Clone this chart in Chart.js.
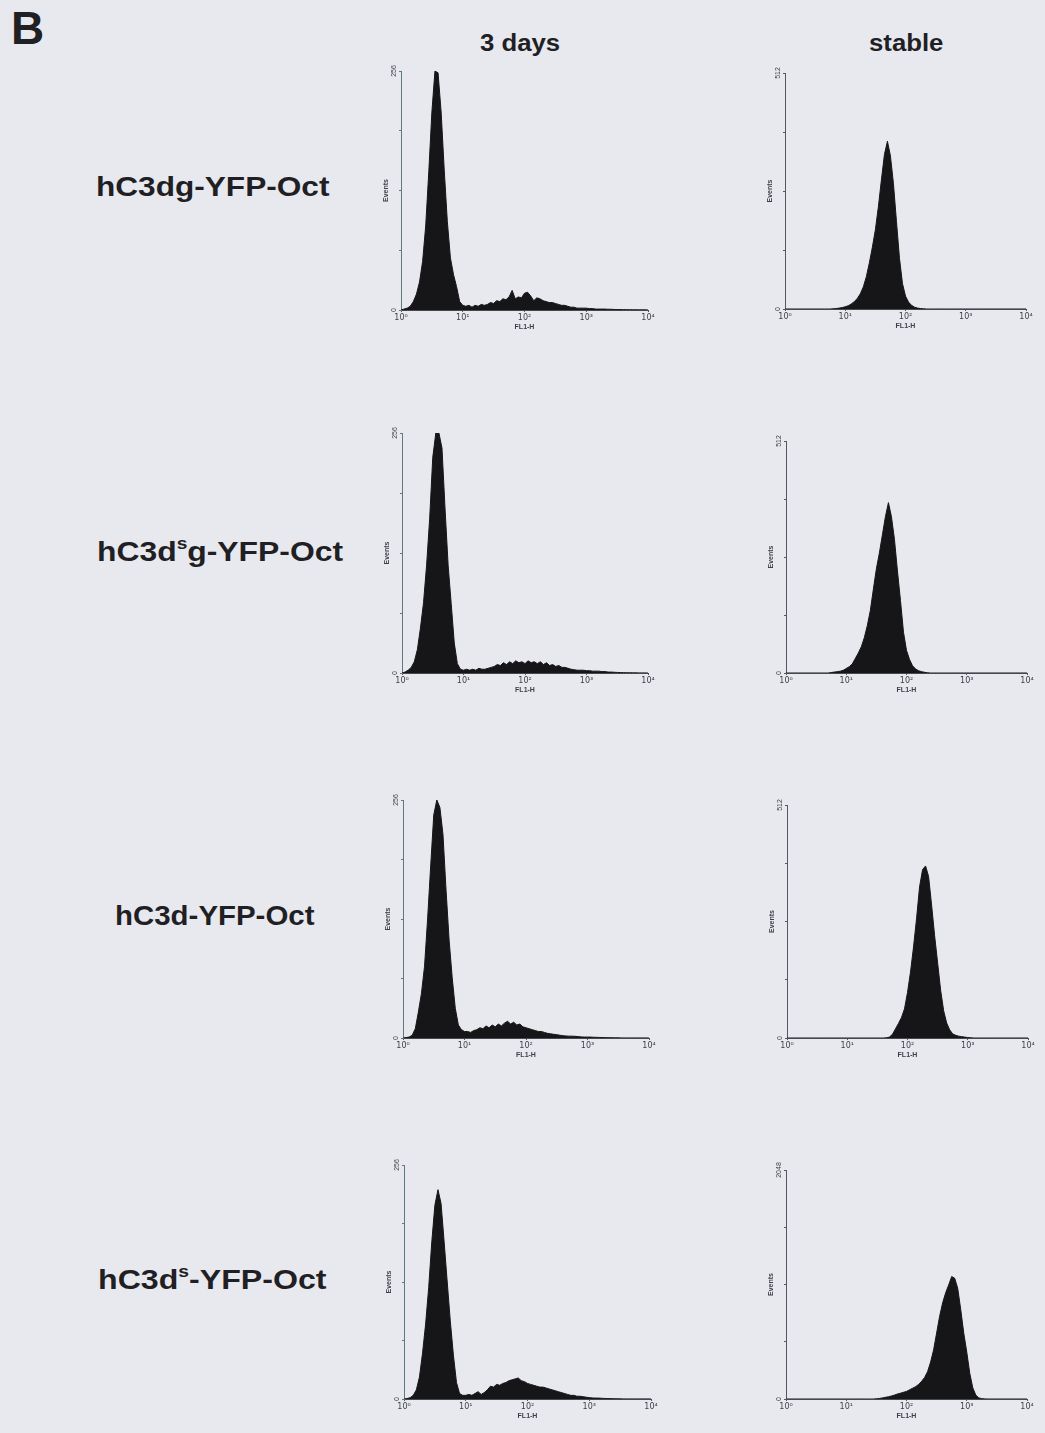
<!DOCTYPE html>
<html><head><meta charset="utf-8">
<script src="https://cdn.jsdelivr.net/npm/chart.js@4/dist/chart.umd.min.js"></script>
<style>
html,body{margin:0;padding:0;}
body{background:#e8e9ef;width:1045px;height:1433px;overflow:hidden;position:relative;font-family:"Liberation Sans",Arial,sans-serif;}
.t{position:absolute;font-weight:bold;color:#1f1f24;white-space:nowrap;line-height:1;transform-origin:0 0;}
.t sup{font-size:60%;vertical-align:0.75em;line-height:0;}
canvas{position:absolute;}
</style></head>
<body>
<div class="t" style="left:11px;top:5px;font-size:46px;">B</div>
<div class="t" style="left:480px;top:32px;font-size:23px;transform:scaleX(1.12);">3 days</div>
<div class="t" style="left:869px;top:32px;font-size:23px;transform:scaleX(1.12);">stable</div>
<div class="t" style="left:96px;top:174px;font-size:27px;transform:scaleX(1.17);">hC3dg-YFP-Oct</div>
<div class="t" style="left:97px;top:539px;font-size:27px;transform:scaleX(1.18);">hC3d<sup>s</sup>g-YFP-Oct</div>
<div class="t" style="left:115px;top:903px;font-size:27px;transform:scaleX(1.09);">hC3d-YFP-Oct</div>
<div class="t" style="left:98px;top:1267px;font-size:27px;transform:scaleX(1.19);">hC3d<sup>s</sup>-YFP-Oct</div>
<script>
// ---- DATA ----
// bin centres on the FL1-H axis, expressed as log10(FL1-H) (0 = 10^0 ... 4 = 10^4)
const BIN_LOG = [0,0.05,0.1,0.15,0.2,0.25,0.3,0.35,0.4,0.45,0.5,0.55,0.6,0.65,0.7,0.75,0.8,0.85,0.9,0.95,
 1,1.05,1.1,1.15,1.2,1.25,1.3,1.35,1.4,1.45,1.5,1.55,1.6,1.65,1.7,1.75,1.8,1.85,1.9,1.95,
 2,2.05,2.1,2.15,2.2,2.25,2.3,2.35,2.4,2.45,2.5,2.55,2.6,2.65,2.7,2.75,2.8,2.85,2.9,2.95,
 3,3.05,3.1,3.15,3.2,3.25,3.3,3.35,3.4,3.45,3.5,3.55,3.6,3.65,3.7,3.75,3.8,3.85,3.9,3.95,4];
const X_TICK_LABELS = ['10\u2070','10\u00b9','10\u00b2','10\u00b3','10\u2074'];
const Y_TITLE = 'Events';
const X_TITLE = 'FL1-H';

const DAY3_DG = [0,1,2,4,9,17,30,52,90,148, 212,256,254,212,150,95,56,38,25,9, 5,4,5,3,5,4,6,5,6,8,
 7,10,9,12,11,14,21,12,14,13, 18,19,15,10,13,12,10,9,8,8, 7,6,5,5,4,3,3,2,2,2,
 2,1.5,1.5,1,1,1,1,0.8,0.8,0.6, 0.5,0.5,0.4,0.4,0.3,0.3,0.3,0.2,0.2,0.2, 0];
const STABLE_DG = [0,0,0,0,0,0,0,0,0,0, 0,0,0,0,0,0,0.5,1,2,3, 5,7,11,16,23,33,48,70,100,134,
 172,222,280,335,364,332,272,190,110,55, 28,15,8,4,2,1,0.5,0,0,0, 0,0,0,0,0,0,0,0,0,0,
 0,0,0,0,0,0,0,0,0,0, 0,0,0,0,0,0,0,0,0,0, 0];
const DAY3_DSG = [0,1,3,6,12,25,48,75,115,165, 230,256,256,240,175,115,74,32,10,4, 3,4,3,4,3,5,4,4,5,6,
 7,9,8,11,9,12,10,13,11,12, 10,13,11,12,10,12,9,11,8,9, 7,8,6,6,5,4,3.5,3,3,3,
 2.5,2.5,2,2,2,1.5,1.5,1,1,0.8, 0.6,0.5,0.4,0.3,0.3,0.2,0.2,0.1,0.1,0.1, 0];
const STABLE_DSG = [0,0,0,0,0,0,0,0,0,0, 0,0,0,0,0,1,2,3,4,6, 10,14,20,32,44,58,78,105,138,185,
 230,265,305,345,376,345,295,225,160,90, 50,30,16,9,5,3,1.5,0.5,0,0, 0,0,0,0,0,0,0,0,0,0,
 0,0,0,0,0,0,0,0,0,0, 0,0,0,0,0,0,0,0,0,0, 0];
const DAY3_D = [0,0.5,1,3,10,28,48,77,128,185, 240,256,248,219,159,105,65,32,14,9, 7,7,6,8,9,11,10,13,11,14,
 12,15,13,16,18,15,17,14,15,12, 11,10,9,8,7,7,6,5,4.5,4, 3.6,3,2.5,2.2,2,2,1.8,1.5,1.2,1,
 1,1,0.8,0.7,0.6,0.5,0.4,0.3,0.3,0.2, 0.2,0.1,0.1,0.1,0.1,0.1,0.1,0.1,0.1,0.1, 0];
const STABLE_D = [0,0,0,0,0,0,0,0,0,0, 0,0,0,0,0,0,0,0,0,0, 0,0,0,0,0,0,0,0,0,0,
 0,0,0,0.5,2,8,20,32,45,64, 100,145,200,262,332,370,378,355,292,225, 165,105,60,33,18,9,6,4,3,2,
 1,0.5,0,0,0,0,0,0,0,0, 0,0,0,0,0,0,0,0,0,0, 0];
const DAY3_DS = [0,0.5,1.5,4,10,24,50,82,122,172, 212,229,214,172,128,85,48,18,6,4, 4,5,4,6,8,5,7,10,14,13,
 16,15,17,18,20,21,22,23,20,19, 17,16,15,14,13,13,12,11,10,9, 8,7,6,5,4,4,3,3,2.5,2,
 1.5,1.2,1,1,0.8,0.6,0.5,0.4,0.3,0.2, 0.2,0.1,0.1,0.1,0.1,0.1,0.1,0.1,0.1,0.1, 0];
const STABLE_DS = [0,0,0,0,0,0,0,0,0,0, 0,0,0,0,0,0,0,0,0,0, 0,0,0,0,0,0,0,0,0,0,
 2,5,10,15,20,27,35,45,52,60, 68,82,96,110,130,158,192,245,330,440, 590,740,860,950,1020,1095,1080,990,800,590,
 420,230,100,35,10,3,1,0,0,0, 0,0,0,0,0,0,0,0,0,0, 0];
const Y_MAX = [256,512,256,512,256,512,256,2048];
const SERIES = [DAY3_DG,STABLE_DG,DAY3_DSG,STABLE_DSG,DAY3_D,STABLE_D,DAY3_DS,STABLE_DS];

// ---- LAYOUT (pixel frame of each panel: y-axis x, top, baseline, right end) ----
const FRAMES = [
 [401,71,310,648],[785,73,309,1026],
 [402,433,673,648],[786,441,673,1027],
 [403,800,1038,649],[787,805,1038,1028],
 [404,1165,1399,651],[786,1170,1399,1027]
];
const PAD_L=26, PAD_T=12, PAD_R=12, PAD_B=30;

const textPlugin = {
  id:'panelText',
  afterDraw(chart){
    const ctx = chart.ctx, xs = chart.scales.x, ys = chart.scales.y;
    const M = chart.options.scales.y.max;
    ctx.save();
    ctx.fillStyle = '#3e3f46';
    ctx.font = '7px "Liberation Sans", Arial, sans-serif';
    ctx.textAlign = 'center'; ctx.textBaseline = 'middle';
    [0, M].forEach(v => {
      const py = ys.getPixelForValue(v);
      ctx.save(); ctx.translate(ys.right - 7, py); ctx.rotate(-Math.PI/2);
      ctx.fillText(String(v), 0, 0); ctx.restore();
    });
    ctx.save(); ctx.translate(ys.right - 15, (ys.top + ys.bottom)/2); ctx.rotate(-Math.PI/2);
    ctx.font = 'bold 7px "Liberation Sans", Arial, sans-serif';
    ctx.fillText(Y_TITLE, 0, 0); ctx.restore();
    ctx.font = '8px "DejaVu Sans", "Liberation Sans", sans-serif';
    X_TICK_LABELS.forEach((t, i) => {
      ctx.fillText(t, xs.getPixelForValue(i), xs.top + 8);
    });
    ctx.font = 'bold 7px "Liberation Sans", Arial, sans-serif';
    ctx.fillText(X_TITLE, (xs.left + xs.right)/2, xs.top + 17);
    ctx.restore();
  }
};

SERIES.forEach((vals, k) => {
  const [ax, top, base, right] = FRAMES[k];
  const M = Y_MAX[k];
  const cv = document.createElement('canvas');
  const w = right - ax + PAD_L + PAD_R, h = base - top + PAD_T + PAD_B;
  cv.width = w; cv.height = h;
  cv.style.left = (ax - PAD_L) + 'px'; cv.style.top = (top - PAD_T) + 'px';
  cv.style.width = w + 'px'; cv.style.height = h + 'px';
  document.body.appendChild(cv);
  const axisCol = (k % 2 === 0) ? '#5e7a7c' : '#55585e';
  new Chart(cv, {
    type: 'line',
    data: { datasets: [{
      data: vals.map((v, i) => ({x: BIN_LOG[i], y: v})),
      fill: 'origin', backgroundColor: '#161518', borderColor: '#161518',
      borderWidth: 1, pointRadius: 0, tension: 0
    }]},
    options: {
      responsive: false, animation: false, devicePixelRatio: 1,
      layout: { padding: { top: PAD_T, right: PAD_R, left: 0, bottom: 0 } },
      plugins: { legend: { display: false }, tooltip: { enabled: false } },
      scales: {
        x: { type: 'linear', min: 0, max: 4,
             ticks: { display: false, stepSize: 1 },
             grid: { display: true, drawOnChartArea: false, drawTicks: true, tickLength: 2, color: '#55585e' },
             border: { display: true, color: '#45484e', width: 1 },
             afterFit: s => { s.height = PAD_B; } },
        y: { type: 'linear', min: 0, max: M,
             ticks: { display: false, stepSize: M/4 },
             grid: { display: true, drawOnChartArea: false, drawTicks: true, tickLength: 2, color: axisCol },
             border: { display: true, color: axisCol, width: 1 },
             afterFit: s => { s.width = PAD_L; } }
      }
    },
    plugins: [textPlugin]
  });
});
</script>
</body></html>
